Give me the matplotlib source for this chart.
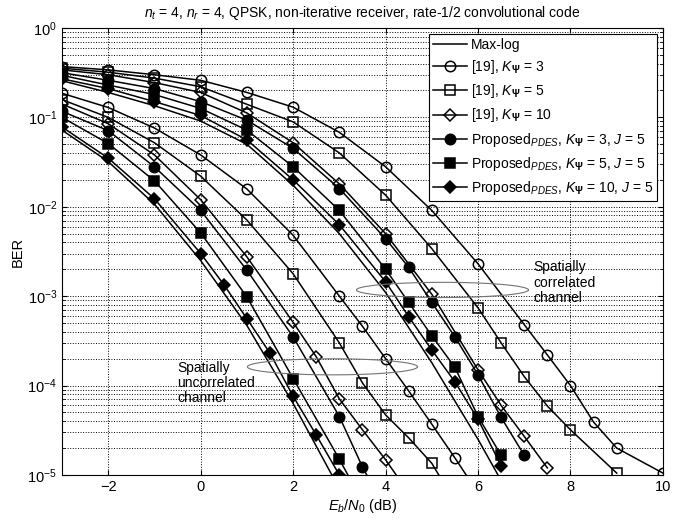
import numpy as np
import matplotlib.pyplot as plt

# ---- correlated channel (upper group) ----
x_circ_c = [-3, -2, -1, 0, 1, 2, 3, 4, 5, 6, 7, 7.5, 8, 8.5, 9, 10]
ber_circ_c = [0.37, 0.34, 0.30, 0.26, 0.19, 0.13, 0.068, 0.028, 9.1e-3, 2.3e-3,
              4.8e-4, 2.2e-4, 1.0e-4, 3.9e-5, 2.0e-5, 1.05e-5]
x_sq_c = [-3, -2, -1, 0, 1, 2, 3, 4, 5, 6, 6.5, 7, 7.5, 8, 9]
ber_sq_c = [0.355, 0.32, 0.275, 0.22, 0.14, 0.089, 0.04, 0.0135, 3.4e-3, 7.4e-4,
            3.0e-4, 1.26e-4, 5.9e-5, 3.2e-5, 1.05e-5]
x_dia_c = [-3, -2, -1, 0, 1, 2, 3, 4, 5, 6, 6.5, 7, 7.5]
ber_dia_c = [0.34, 0.30, 0.245, 0.19, 0.112, 0.052, 0.018, 5.0e-3, 1.05e-3,
             1.5e-4, 6.0e-5, 2.7e-5, 1.2e-5]
x_fc_c = [-3, -2, -1, 0, 1, 2, 3, 4, 4.5, 5, 5.5, 6, 6.5, 7]
ber_fc_c = [0.316, 0.26, 0.21, 0.15, 0.093, 0.045, 0.016, 4.4e-3, 2.1e-3, 8.5e-4,
            3.5e-4, 1.32e-4, 4.4e-5, 1.66e-5]
x_fs_c = [-3, -2, -1, 0, 1, 2, 3, 4, 4.5, 5, 5.5, 6, 6.5]
ber_fs_c = [0.295, 0.23, 0.18, 0.126, 0.072, 0.028, 9.1e-3, 2.0e-3, 8.5e-4, 3.6e-4,
            1.6e-4, 4.5e-5, 1.66e-5]
x_fd_c = [-3, -2, -1, 0, 1, 2, 3, 4, 4.5, 5, 5.5, 6, 6.5]
ber_fd_c = [0.27, 0.21, 0.15, 0.105, 0.056, 0.02, 6.3e-3, 1.45e-3, 5.9e-4, 2.5e-4,
            1.1e-4, 4.2e-5, 1.26e-5]
x_ml_c = [-3, -2, -1, 0, 1, 2, 3, 4, 5, 6, 7]
ber_ml_c = [0.257, 0.19, 0.135, 0.091, 0.05, 0.0174, 5.0e-3, 1.1e-3, 1.8e-4, 2.5e-5, 3e-6]

# ---- uncorrelated channel (lower group) ----
x_circ_u = [-3, -2, -1, 0, 1, 2, 3, 3.5, 4, 4.5, 5, 5.5, 6]
ber_circ_u = [0.186, 0.129, 0.076, 0.038, 0.0158, 4.8e-3, 1.0e-3, 4.6e-4, 2.0e-4,
              8.7e-5, 3.7e-5, 1.55e-5, 6.3e-6]
x_sq_u = [-3, -2, -1, 0, 1, 2, 3, 3.5, 4, 4.5, 5, 5.5]
ber_sq_u = [0.158, 0.10, 0.052, 0.022, 7.1e-3, 1.78e-3, 3.0e-4, 1.07e-4, 4.7e-5,
            2.6e-5, 1.35e-5, 5e-6]
x_dia_u = [-3, -2, -1, 0, 1, 2, 2.5, 3, 3.5, 4, 4.5]
ber_dia_u = [0.141, 0.085, 0.038, 0.012, 2.75e-3, 5.1e-4, 2.1e-4, 7.1e-5, 3.2e-5,
             1.48e-5, 6.3e-6]
x_fc_u = [-3, -2, -1, 0, 1, 2, 3, 3.5, 4]
ber_fc_u = [0.117, 0.071, 0.028, 9.1e-3, 1.95e-3, 3.5e-4, 4.5e-5, 1.23e-5, 4e-6]
x_fs_u = [-3, -2, -1, 0, 1, 2, 3, 3.5]
ber_fs_u = [0.10, 0.051, 0.0195, 5.1e-3, 9.8e-4, 1.2e-4, 1.5e-5, 5e-6]
x_fd_u = [-3, -2, -1, 0, 0.5, 1, 1.5, 2, 2.5, 3]
ber_fd_u = [0.078, 0.035, 0.0123, 3.0e-3, 1.35e-3, 5.6e-4, 2.3e-4, 7.6e-5, 2.8e-5, 1.0e-5]
x_ml_u = [-3, -2, -1, 0, 1, 2, 3]
ber_ml_u = [0.072, 0.032, 0.0107, 2.5e-3, 4.7e-4, 6.3e-5, 7e-6]

labels = ['Max-log',
          r'[19], $K_{\mathbf{\Psi}}$ = 3',
          r'[19], $K_{\mathbf{\Psi}}$ = 5',
          r'[19], $K_{\mathbf{\Psi}}$ = 10',
          r'Proposed$_{PDES}$, $K_{\mathbf{\Psi}}$ = 3, $J$ = 5',
          r'Proposed$_{PDES}$, $K_{\mathbf{\Psi}}$ = 5, $J$ = 5',
          r'Proposed$_{PDES}$, $K_{\mathbf{\Psi}}$ = 10, $J$ = 5']

plt.rcParams['font.family'] = ['Liberation Sans', 'DejaVu Sans']
plt.rcParams['mathtext.fontset'] = 'custom'
plt.rcParams['mathtext.it'] = 'Liberation Sans:italic'
plt.rcParams['mathtext.rm'] = 'Liberation Sans'
plt.rcParams['mathtext.bf'] = 'Liberation Sans:bold'

fig = plt.figure(figsize=(6.86, 5.23), dpi=100)
ax = fig.add_axes([0.0904, 0.0918, 0.876, 0.8547])

styles = [dict(marker=None),
          dict(marker='o', mfc='none', ms=7.5),
          dict(marker='s', mfc='none', ms=7),
          dict(marker='D', mfc='none', ms=6),
          dict(marker='o', mfc='k', ms=7.5),
          dict(marker='s', mfc='k', ms=7),
          dict(marker='D', mfc='k', ms=6)]

upper = [(x_ml_c, ber_ml_c), (x_circ_c, ber_circ_c), (x_sq_c, ber_sq_c),
         (x_dia_c, ber_dia_c), (x_fc_c, ber_fc_c), (x_fs_c, ber_fs_c),
         (x_fd_c, ber_fd_c)]
lower = [(x_ml_u, ber_ml_u), (x_circ_u, ber_circ_u), (x_sq_u, ber_sq_u),
         (x_dia_u, ber_dia_u), (x_fc_u, ber_fc_u), (x_fs_u, ber_fs_u),
         (x_fd_u, ber_fd_u)]

for (xs, ys), st, lab in zip(upper, styles, labels):
    ax.semilogy(xs, ys, color='k', lw=1.1, mec='k', mew=1.1, label=lab, **st)
for (xs, ys), st in zip(lower, styles):
    ax.semilogy(xs, ys, color='k', lw=1.1, mec='k', mew=1.1, **st)

# ellipses marking the two groups
t = np.linspace(0, 2 * np.pi, 200)
for xc, a, yc, b in [(5.23, 1.86, -2.93, 0.085), (2.85, 1.84, -3.79, 0.09)]:
    ax.plot(xc + a * np.cos(t), 10 ** (yc + b * np.sin(t)), color='0.45', lw=0.8)

ax.text(7.2, 10 ** -2.6, 'Spatially\ncorrelated\nchannel', fontsize=10,
        va='top', ha='left', linespacing=1.1)
ax.text(-0.5, 10 ** -3.72, 'Spatially\nuncorrelated\nchannel', fontsize=10,
        va='top', ha='left', linespacing=1.1)

ax.set_xlim(-3, 10)
ax.set_ylim(1e-5, 1)
ax.set_xticks([-2, 0, 2, 4, 6, 8, 10])
ax.grid(True, which='major', ls=':', color='k', lw=0.7)
ax.grid(True, which='minor', axis='y', ls=':', color='k', lw=0.7)
ax.tick_params(which='both', direction='in', top=True, right=True, labelsize=10.5)
ax.set_xlabel(r'$E_b/N_0$ (dB)', fontsize=10.5, labelpad=2)
ax.set_ylabel('BER', fontsize=10.5, labelpad=2)
ax.set_title(r'$n_t$ = 4, $n_r$ = 4, QPSK, non-iterative receiver, rate-1/2 convolutional code',
             fontsize=10, pad=8)

leg = ax.legend(loc='upper right', fontsize=10, fancybox=False, framealpha=1,
                edgecolor='k', handlelength=2.4, borderpad=0.3, labelspacing=0.45,
                handletextpad=0.3, borderaxespad=0.4)
leg.get_frame().set_linewidth(0.8)

fig.savefig('out.png', dpi=100)
